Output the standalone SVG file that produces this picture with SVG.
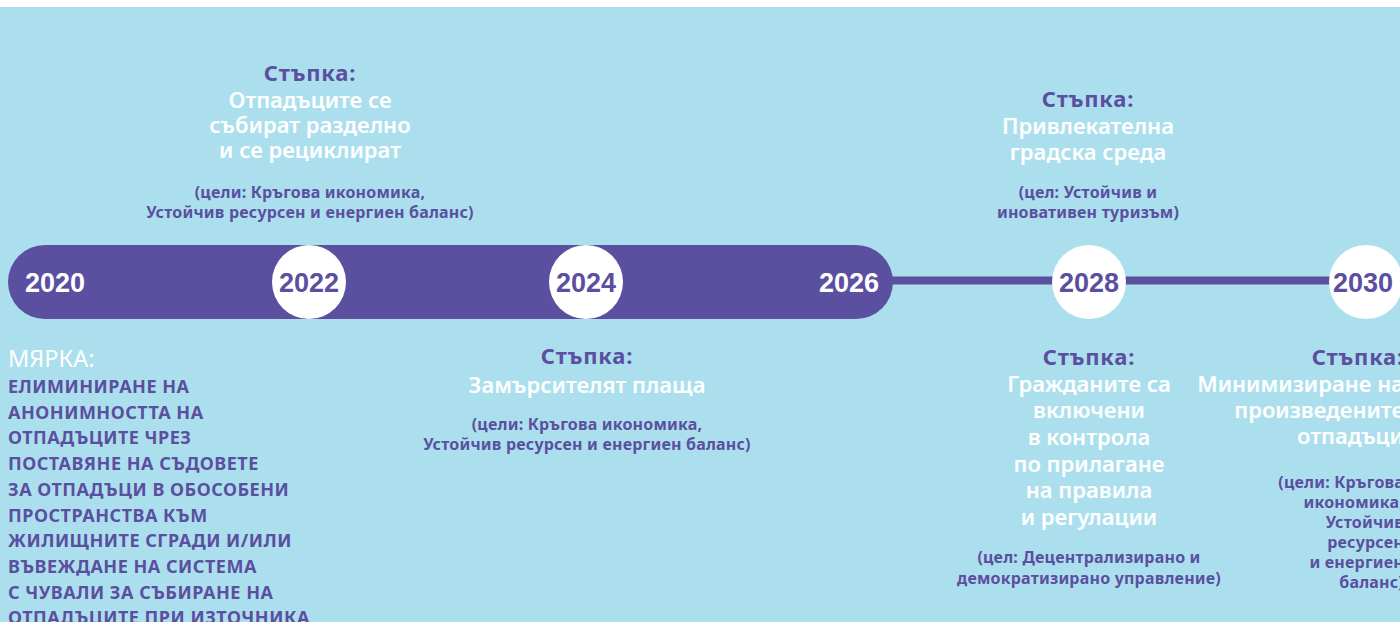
<svg xmlns="http://www.w3.org/2000/svg" width="1400" height="622" viewBox="0 0 1400 622" xml:lang="bg" lang="bg">
<style>
text{font-family:"Noto Sans","Liberation Sans",sans-serif}
.h{font-size:22px;font-weight:700;fill:#5B4FA0;text-anchor:middle;letter-spacing:0.8px}
.w{font-size:22px;font-weight:600;fill:#FFFFFF;text-anchor:middle}
.g{font-size:16px;font-weight:700;fill:#5B4FA0;text-anchor:middle;letter-spacing:0.2px}
.e{text-anchor:end}
.yr{font-size:27px;font-weight:700;text-anchor:middle;font-family:"Liberation Sans","Noto Sans",sans-serif}
.yw{fill:#FFFFFF}
.yp{fill:#5B4FA0}
.circ{fill:#FFFFFF}
.m{font-size:23.5px;font-weight:400;fill:#FFFFFF}
.u{font-size:18px;font-weight:700;fill:#5B4FA0;letter-spacing:0.5px}
</style>
<rect x="0" y="0" width="1400" height="622" fill="#FFFFFF"/>
<rect x="0" y="7" width="1400" height="615" fill="#ACDFEE"/>
<g id="connectors">
<rect x="8" y="245" width="885" height="74" rx="37" ry="37" fill="#5B4FA0"/>
<line x1="880" y1="280.5" x2="1400" y2="280.5" stroke="#5B4FA0" stroke-width="8"/>
</g>
<g id="y2020"><text class="yr yw" x="55" y="292">2020</text></g>
<g id="y2022"><circle class="circ" cx="309" cy="282" r="37"/><text class="yr yp" x="309" y="292">2022</text></g>
<g id="y2024"><circle class="circ" cx="586" cy="282" r="37"/><text class="yr yp" x="586" y="292">2024</text></g>
<g id="y2026"><text class="yr yw" x="849" y="292">2026</text></g>
<g id="y2028"><circle class="circ" cx="1089" cy="282" r="37"/><text class="yr yp" x="1089" y="292">2028</text></g>
<g id="y2030"><circle class="circ" cx="1366" cy="282" r="37"/><text class="yr yp" x="1363" y="292">2030</text></g>
<g id="step-2022">
<text class="h" x="310" y="81">Стъпка:</text>
<text class="w" x="310" y="108">Отпадъците се</text>
<text class="w" x="310" y="133">събират разделно</text>
<text class="w" x="310" y="158">и се рециклират</text>
<text class="g" x="310" y="198">(цели: Кръгова икономика,</text>
<text class="g" x="310" y="218">Устойчив ресурсен и енергиен баланс)</text>
</g>
<g id="step-2028-top">
<text class="h" x="1088" y="107">Стъпка:</text>
<text class="w" x="1088" y="134">Привлекателна</text>
<text class="w" x="1088" y="160">градска среда</text>
<text class="g" x="1088" y="198">(цел: Устойчив и</text>
<text class="g" x="1088" y="218">иновативен туризъм)</text>
</g>
<g id="measure-2020">
<text class="m" x="8" y="367">МЯРКА:</text>
<text class="u" x="8" y="393">ЕЛИМИНИРАНЕ НА</text>
<text class="u" x="8" y="419">АНОНИМНОСТТА НА</text>
<text class="u" x="8" y="444">ОТПАДЪЦИТЕ ЧРЕЗ</text>
<text class="u" x="8" y="470">ПОСТАВЯНЕ НА СЪДОВЕТЕ</text>
<text class="u" x="8" y="496">ЗА ОТПАДЪЦИ В ОБОСОБЕНИ</text>
<text class="u" x="8" y="522">ПРОСТРАНСТВА КЪМ</text>
<text class="u" x="8" y="547">ЖИЛИЩНИТЕ СГРАДИ И/ИЛИ</text>
<text class="u" x="8" y="573">ВЪВЕЖДАНЕ НА СИСТЕМА</text>
<text class="u" x="8" y="599">С ЧУВАЛИ ЗА СЪБИРАНЕ НА</text>
<text class="u" x="8" y="624">ОТПАДЪЦИТЕ ПРИ ИЗТОЧНИКА</text>
</g>
<g id="step-2024">
<text class="h" x="587" y="364">Стъпка:</text>
<text class="w" x="587" y="393">Замърсителят плаща</text>
<text class="g" x="587" y="430">(цели: Кръгова икономика,</text>
<text class="g" x="587" y="450">Устойчив ресурсен и енергиен баланс)</text>
</g>
<g id="step-2028">
<text class="h" x="1089" y="365">Стъпка:</text>
<text class="w" x="1089" y="392">Гражданите са</text>
<text class="w" x="1089" y="418">включени</text>
<text class="w" x="1089" y="445">в контрола</text>
<text class="w" x="1089" y="472">по прилагане</text>
<text class="w" x="1089" y="498">на правила</text>
<text class="w" x="1089" y="525">и регулации</text>
<text class="g" x="1089" y="563">(цел: Децентрализирано и</text>
<text class="g" x="1089" y="584">демократизирано управление)</text>
</g>
<g id="step-2030">
<text class="h e" x="1404" y="365">Стъпка:</text>
<text class="w e" x="1404" y="392">Минимизиране на</text>
<text class="w e" x="1404" y="418">произведените</text>
<text class="w e" x="1404" y="444">отпадъци</text>
<text class="g e" x="1404" y="488">(цели: Кръгова</text>
<text class="g e" x="1404" y="508">икономика,</text>
<text class="g e" x="1404" y="528">Устойчив</text>
<text class="g e" x="1404" y="548">ресурсен</text>
<text class="g e" x="1404" y="568">и енергиен</text>
<text class="g e" x="1404" y="588">баланс)</text>
</g>
</svg>
